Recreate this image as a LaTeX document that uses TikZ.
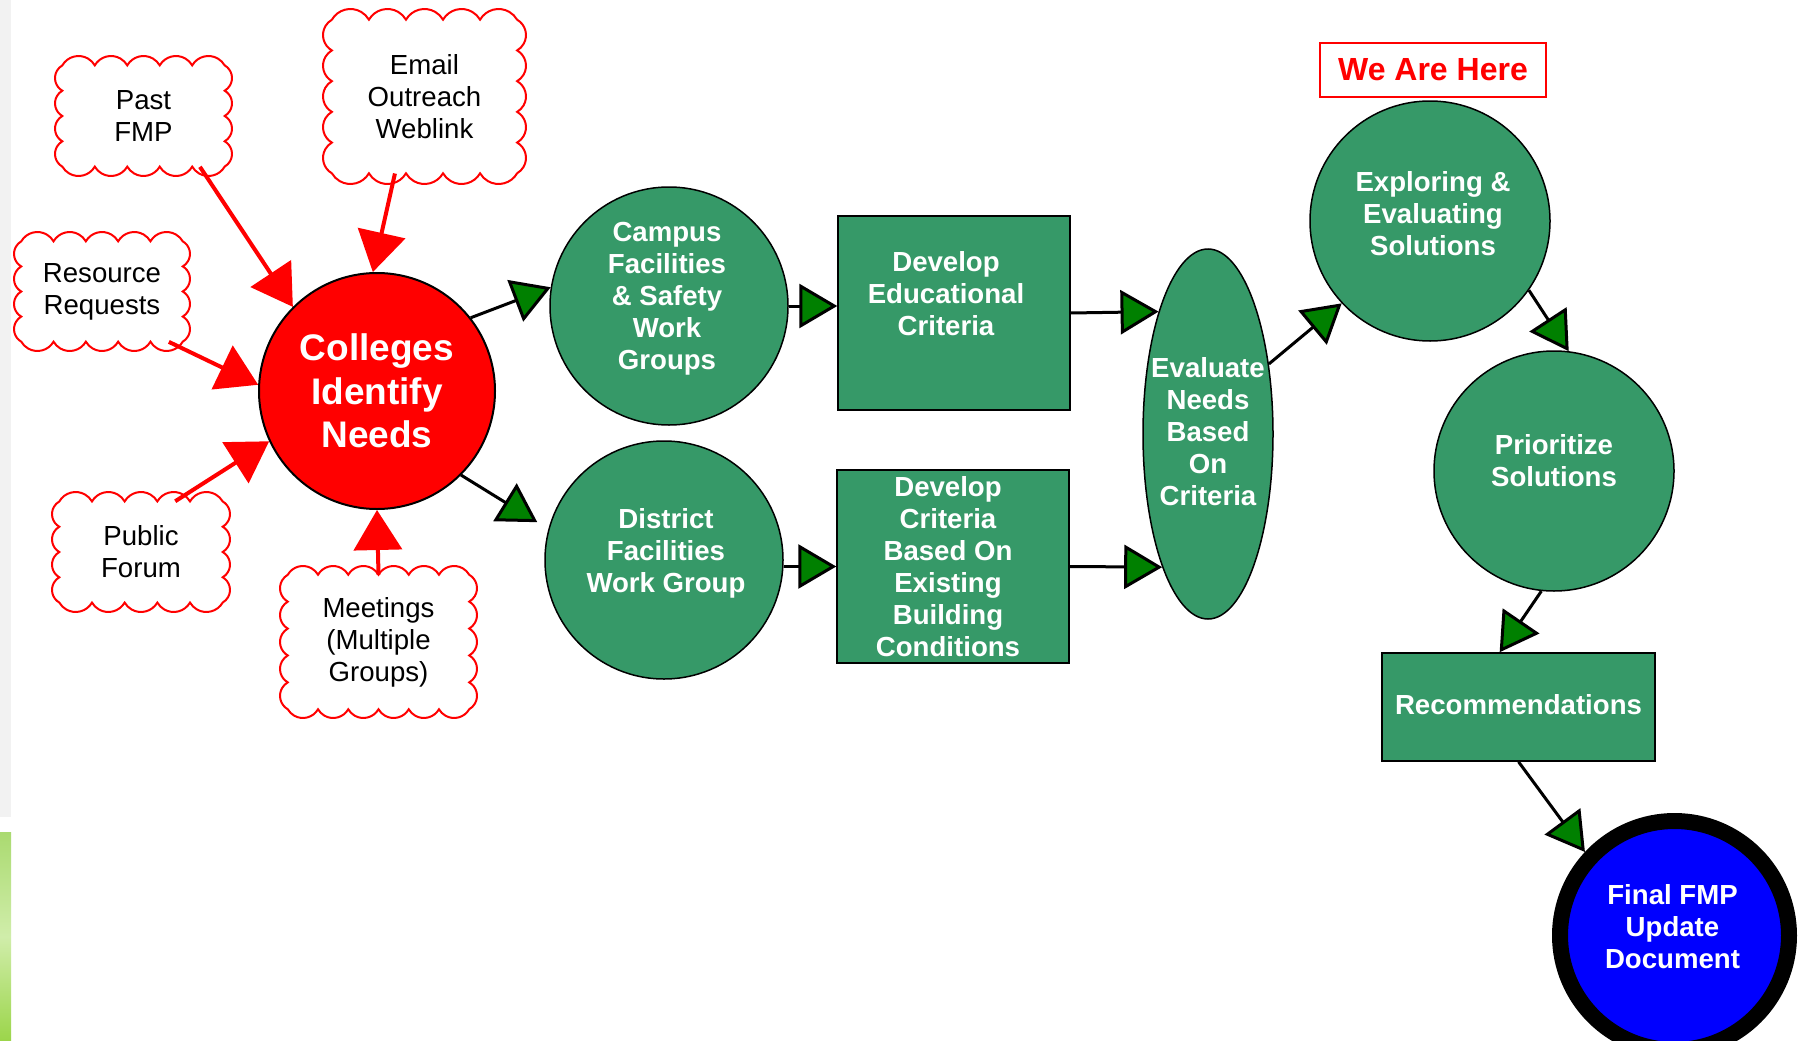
\documentclass[tikz,border=0pt]{standalone}
\usepackage{fontspec}
\setmainfont{Liberation Sans}
\usetikzlibrary{arrows.meta,shapes.geometric,calc}
\definecolor{nodegreen}{RGB}{54,153,104}
\definecolor{tipgreen}{RGB}{0,128,0}
\definecolor{pureblue}{RGB}{0,0,255}
\definecolor{purered}{RGB}{255,0,0}
\definecolor{stripgray}{RGB}{242,242,242}
\definecolor{stripgreenA}{RGB}{170,218,112}
\definecolor{stripgreenB}{RGB}{208,237,170}
\definecolor{stripgreenC}{RGB}{155,213,74}

\newcommand\txtsize{\fontsize{27.6}{32}\selectfont}
\newcommand\bigsize{\fontsize{37}{43.7}\selectfont}
\newcommand\tagsize{\fontsize{32}{36}\selectfont}

\tikzset{
  cloudline/.style={draw=purered, line width=2pt, fill=white},
  cloudtext/.style={font=\txtsize, text=black, align=center, inner sep=0pt},
  gnode/.style={fill=nodegreen, draw=black, line width=1.5pt, inner sep=0pt},
  gcirc/.style={gnode, circle, minimum size=238pt},
  grect/.style={gnode, rectangle},
  wtext/.style={text=white, font=\txtsize\bfseries, align=center, inner sep=0pt},
  redarrow/.style={draw=purered, line width=4pt, -{Triangle[length=40pt,width=48pt]}},
  grarrow/.style={draw=black, line width=3pt, -{Triangle[length=38pt,width=44pt,fill=tipgreen]}},
}

% #1 name, #2 x1, #3 y1, #4 x2, #5 y2 (pixels, y downward), #6 bumps across, #7 bumps down, #8 text
\newcommand\cloudnode[8]{%
  \pgfmathsetmacro\clW{#4-#2}%
  \pgfmathsetmacro\clH{#5-#3}%
  \pgfmathsetmacro\clkx{0.578/#6}%
  \pgfmathsetmacro\clky{0.578/#7}%
  \pgfmathsetmacro\clbw{(\clW-\clky*\clH)/(1-\clkx*\clky)}%
  \pgfmathsetmacro\clbh{\clH-\clkx*\clbw}%
  \pgfmathsetmacro\clcx{(#2+#4)/2}%
  \pgfmathsetmacro\clcy{-(#3+#5)/2}%
  \pgfmathsetmacro\clrx{\clbw/#6/1.7320508}%
  \pgfmathsetmacro\clry{\clbh/#7/1.7320508}%
  \pgfmathsetmacro\clax{\clcx-\clbw/2}%
  \pgfmathsetmacro\clay{\clcy+\clbh/2}%
  \draw[cloudline] (\clax,\clay)
     \foreach \i in {1,...,#6}{ arc[start angle=150,end angle=30,radius=\clrx] }
     \foreach \i in {1,...,#7}{ arc[start angle=60,end angle=-60,radius=\clry] }
     \foreach \i in {1,...,#6}{ arc[start angle=-30,end angle=-150,radius=\clrx] }
     \foreach \i in {1,...,#7}{ arc[start angle=240,end angle=120,radius=\clry] }
     -- cycle;
  \node[cloudtext, minimum width=\clbw pt, minimum height=\clbh pt] (#1) at (\clcx,\clcy) {#8};
}

\begin{document}
\begin{tikzpicture}[x=1pt,y=1pt]
\useasboundingbox (0,0) rectangle (1802,-1041);
\clip (0,0) rectangle (1802,-1041);
\fill[white] (0,0) rectangle (1802,-1041);

% left edge strips
\fill[stripgray] (0,0) rectangle (11,-817);
\shade[top color=stripgreenA, bottom color=stripgreenC, middle color=stripgreenB] (0,-832) rectangle (11,-1041);

% clouds
\cloudnode{past}{55}{56}{232}{176}{5}{4}{Past\\FMP}
\cloudnode{email}{323}{9}{526}{184}{5}{5}{Email\\Outreach\\Weblink}
\cloudnode{resource}{14}{232}{190}{351}{5}{4}{Resource\\Requests}
\cloudnode{public}{52}{492}{230}{612}{5}{4}{Public\\Forum}
\cloudnode{meetings}{280}{566}{477}{718}{6}{5}{Meetings\\(Multiple\\Groups)}

% main nodes
\node[circle, minimum size=236pt, fill=purered, draw=black, line width=2pt,
      text=white, font=\bigsize\bfseries, align=center, inner sep=0pt]
      (colleges) at (377,-391) {Colleges\\Identify\\Needs};

\node[gcirc, label={[wtext,yshift=7pt,xshift=-2pt]center:{Campus\\Facilities\\\& Safety\\Work\\Groups}}]
      (campus) at (669,-306) {};
\node[gcirc, label={[wtext,yshift=7pt,xshift=2pt]center:{District\\Facilities\\Work Group}}]
      (district) at (664,-560) {};

\node[grect, minimum width=232pt, minimum height=194pt,
      label={[wtext,yshift=19pt,xshift=-8pt]center:{Develop\\Educational\\Criteria}}]
      (deved) at (954,-313) {};
\node[grect, minimum width=232pt, minimum height=193pt,
      label={[wtext,xshift=-5pt]center:{Develop\\Criteria\\Based On\\Existing\\Building\\Conditions}}]
      (devcrit) at (953,-566.5) {};

\node[gnode, ellipse, minimum width=130pt, minimum height=370pt,
      label={[wtext,yshift=2pt]center:{Evaluate\\Needs\\Based\\On\\Criteria}}]
      (evaluate) at (1208,-434) {};

\node[draw=purered, line width=2pt, minimum width=226pt, minimum height=53pt,
      text=purered, font=\tagsize\bfseries, inner sep=0pt]
      (here) at (1433,-70) {We Are Here};

\node[gcirc, minimum size=240pt,
      label={[wtext,yshift=7pt,xshift=3pt]center:{Exploring \&\\Evaluating\\Solutions}}]
      (exploring) at (1430,-221) {};
\node[gcirc, minimum size=240pt,
      label={[wtext,yshift=10pt]center:{Prioritize\\Solutions}}]
      (prioritize) at (1554,-471) {};

\node[grect, minimum width=273pt, minimum height=108pt,
      label={[wtext,yshift=2pt]center:{Recommendations}}]
      (recom) at (1518.5,-707) {};

\node[circle, minimum size=229pt, fill=pureblue, draw=black, line width=16pt, inner sep=0pt,
      label={[wtext,yshift=9pt,xshift=-2pt]center:{Final FMP\\Update\\Document}}]
      (final) at (1674.5,-935.5) {};

% red input arrows
\draw[redarrow] (past.-42) -- (colleges.135);
\draw[redarrow] (email.-111) -- (colleges.92);
\draw[redarrow] (resource.-37) -- (colleges.177);
\draw[redarrow] (public.56) -- (colleges.205);
\draw[redarrow] (meetings.north) -- (colleges.south);

% process arrows
\draw[grarrow] (colleges.38) -- (campus.171);
\draw[grarrow, shorten >=13pt] (colleges.-45) -- (district.165);
\draw[grarrow] (campus.east) -- (campus.east -| deved.west);
\draw[grarrow] (district.east |- devcrit.west) -- (devcrit.west);
\draw[grarrow] (deved.east) -- (evaluate.112);
\draw[grarrow] (devcrit.east) -- (evaluate.251);
\draw[grarrow] (evaluate.49) -- (exploring.223);
\draw[grarrow] (exploring.-35) -- (prioritize.83);
\draw[grarrow] (prioritize.264) -- (recom.109);
\draw[grarrow] (recom.south) -- (final.137);
\end{tikzpicture}
\end{document}
